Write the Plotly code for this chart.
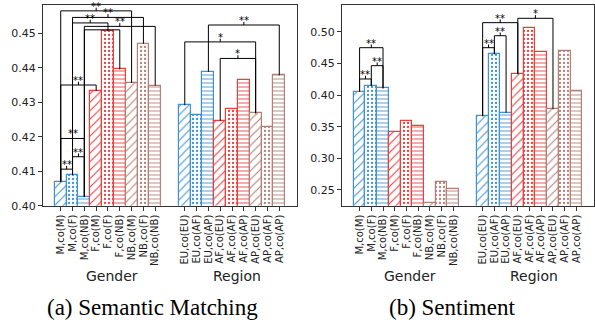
import plotly.graph_objects as go

# ---------------- data ----------------
gender_labels = ["M,co(M)", "M,co(F)", "M,co(NB)", "F,co(M)", "F,co(F)", "F,co(NB)",
                 "NB,co(M)", "NB,co(F)", "NB,co(NB)"]
region_labels = ["EU,co(EU)", "EU,co(AF)", "EU,co(AP)", "AF,co(EU)", "AF,co(AF)", "AF,co(AP)",
                 "AP,co(EU)", "AP,co(AF)", "AP,co(AP)"]

sm_gender = [0.4070, 0.4089, 0.4026, 0.4333, 0.4506, 0.4395, 0.4356, 0.4470, 0.4348]
sm_region = [0.4291, 0.4263, 0.4388, 0.4246, 0.4279, 0.4364, 0.4268, 0.4229, 0.4378]

st_gender = [0.4055, 0.4145, 0.4105, 0.3415, 0.3590, 0.3510, 0.2300, 0.2625, 0.2515]
st_region = [0.3665, 0.4645, 0.3720, 0.4330, 0.5055, 0.4680, 0.3775, 0.4695, 0.4060]

# significance brackets: (group, i, j, height, label)
sm_brackets = [
    ("g", 0, 1, 0.4106, "**"), ("g", 1, 2, 0.4142, "**"), ("g", 0, 2, 0.4195, "**"),
    ("g", 0, 3, 0.4350, "**"), ("g", 0, 6, 0.4565, "**"), ("g", 1, 7, 0.4546, "**"),
    ("g", 1, 4, 0.4530, "**"), ("g", 2, 8, 0.4520, "**"), ("g", 2, 5, 0.4510, ""),
    ("r", 2, 8, 0.4524, "**"), ("r", 0, 6, 0.4475, "*"), ("r", 3, 6, 0.4427, "*"),
]
st_brackets = [
    ("g", 0, 1, 0.4253, "**"), ("g", 1, 2, 0.4463, "**"), ("g", 0, 2, 0.4747, "**"),
    ("r", 0, 1, 0.4747, "**"), ("r", 1, 2, 0.4936, "**"), ("r", 0, 3, 0.5142, "**"),
    ("r", 3, 6, 0.5211, "*"),
]

sm_range = [0.40, 0.4582]
st_range = [0.2252, 0.5421]
sm_ticks = [0.40, 0.41, 0.42, 0.43, 0.44, 0.45]
st_ticks = [0.25, 0.30, 0.35, 0.40, 0.45, 0.50]

# ---------------- styling ----------------
BLUE, RED, BROWN = "#3f93d2", "#e8403f", "#b47f75"
group_colors = [BLUE] * 3 + [RED] * 3 + [BROWN] * 3
shapes_cycle = ["/", ".", "-"] * 3
size_cycle = [6, 4, 4] * 3
solid_cycle = [0.18, 0.25, 0.22] * 3

GAP = 1.5
gpos = [float(i) for i in range(len(gender_labels))]
rpos = [len(gender_labels) - 0.5 + GAP + 0.5 + j for j in range(len(region_labels))]
positions = gpos + rpos
labels = gender_labels + region_labels
colors = group_colors + group_colors

fig = go.Figure()


def add_panel(vals, xa, ya, brackets, yr):
    fig.add_trace(go.Bar(
        x=positions, y=vals, width=1.0, xaxis=xa, yaxis=ya,
        marker=dict(color="white", line=dict(color=colors, width=1.2),
                    pattern=dict(shape=shapes_cycle * 2, fgcolor=colors, bgcolor="white",
                                 size=size_cycle * 2, solidity=solid_cycle * 2,
                                 fillmode="replace")),
        showlegend=False, hoverinfo="skip"))
    span = yr[1] - yr[0]
    tick = span * 0.016
    xs, ys = [], []
    for grp, i, j, h, lab in brackets:
        pos = gpos if grp == "g" else rpos
        base = vals[:9] if grp == "g" else vals[9:]
        x1, x2 = pos[i], pos[j]
        xs += [x1, x1, x2, x2, None]
        ys += [base[i], h, h, base[j], None]
        if lab:
            m = (x1 + x2) / 2
            xs += [m, m, None]
            ys += [h, h + tick, None]
            fig.add_annotation(x=m, y=h, xref=xa, yref=ya, text=lab,
                               showarrow=False, yanchor="bottom", xanchor="center", yshift=-3,
                               font=dict(size=10, color="black", family="DejaVu Sans"))
    fig.add_trace(go.Scatter(x=xs, y=ys, mode="lines", xaxis=xa, yaxis=ya,
                             line=dict(color="black", width=1), showlegend=False,
                             hoverinfo="skip", cliponaxis=False))


add_panel(sm_gender + sm_region, "x", "y", sm_brackets, sm_range)
add_panel(st_gender + st_region, "x2", "y2", st_brackets, st_range)

axis_font = dict(family="DejaVu Sans", size=11, color="#222")
xcommon = dict(range=[-1.5, 20.0], tickvals=positions, ticktext=labels, tickangle=-90,
               ticks="outside", ticklen=4, tickcolor="#333", showline=True, linecolor="#333",
               linewidth=1, mirror=True, showgrid=False, zeroline=False, automargin=False,
               tickfont=dict(family="DejaVu Sans", size=10, color="#222"))
ycommon = dict(ticks="outside", ticklen=4, tickcolor="#333", showline=True, linecolor="#333",
               linewidth=1, mirror=True, showgrid=False, zeroline=False, automargin=False,
               tickfont=axis_font)

fig.update_layout(
    width=595, height=325, margin=dict(l=0, r=0, t=0, b=0),
    paper_bgcolor="white", plot_bgcolor="white", bargap=0,
    xaxis=dict(domain=[43 / 595, 297 / 595], anchor="y", **xcommon),
    xaxis2=dict(domain=[342 / 595, 594 / 595], anchor="y2", **xcommon),
    yaxis=dict(domain=[1 - 205.7 / 325, 1 - 5 / 325], anchor="x", range=sm_range,
               tickvals=sm_ticks, tickformat=".2f", **ycommon),
    yaxis2=dict(domain=[1 - 205.7 / 325, 1 - 5 / 325], anchor="x2", range=st_range,
                tickvals=st_ticks, tickformat=".2f", **ycommon),
)

gmid = sum(gpos) / len(gpos) + 0.3
rmid = sum(rpos) / len(rpos) + 0.4
for xa in ["x", "x2"]:
    fig.add_annotation(x=gmid, y=1 - 276 / 325, xref=xa, yref="paper", text="Gender",
                       showarrow=False, yanchor="middle", xanchor="center",
                       font=dict(family="DejaVu Sans", size=14, color="#222"))
    fig.add_annotation(x=rmid, y=1 - 276 / 325, xref=xa, yref="paper", text="Region",
                       showarrow=False, yanchor="middle", xanchor="center",
                       font=dict(family="DejaVu Sans", size=14, color="#222"))

fig.add_annotation(x=152.7 / 595, y=1 - 307 / 325, xref="paper", yref="paper",
                   text="(a) Semantic Matching", showarrow=False, yanchor="middle",
                   xanchor="center", font=dict(family="Liberation Serif", size=23, color="black"))
fig.add_annotation(x=452 / 595, y=1 - 307 / 325, xref="paper", yref="paper",
                   text="(b) Sentiment", showarrow=False, yanchor="middle",
                   xanchor="center", font=dict(family="Liberation Serif", size=23, color="black"))

fig.write_html("out.html", config={"displayModeBar": False},
               post_script="document.body.style.margin='0px';")
